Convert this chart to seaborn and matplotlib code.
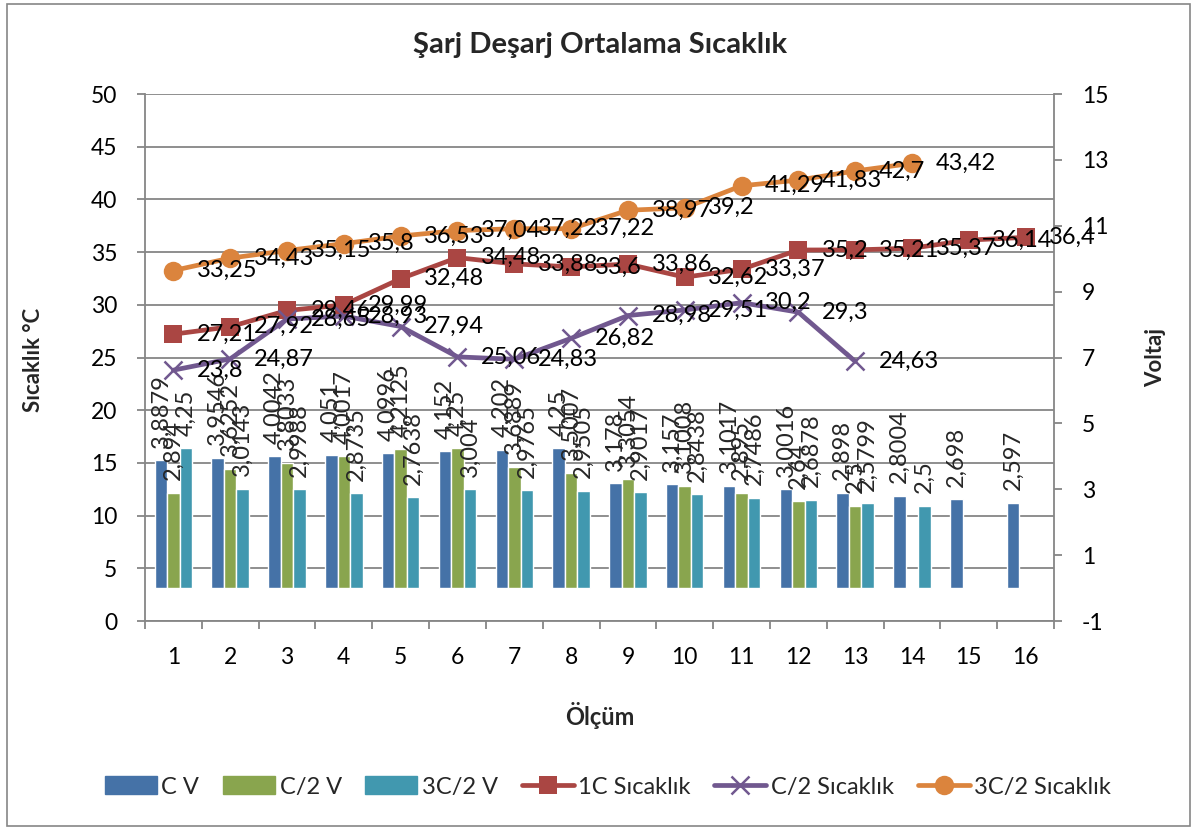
import numpy as np
import pandas as pd
import matplotlib
matplotlib.use("Agg")
import matplotlib.pyplot as plt
import matplotlib.transforms as mtransforms
from matplotlib.patches import Patch, Rectangle
from matplotlib.lines import Line2D
import seaborn as sns

sns.set_theme(style="white")
plt.rcParams["font.family"] = ["Lato", "DejaVu Sans"]
plt.rcParams["axes.unicode_minus"] = False

# --- data -------------------------------------------------------------
olcum = [str(i) for i in range(1, 17)]

# voltages (right axis)
c_v = [3.8879, 3.9546, 4.0042, 4.051, 4.0996, 4.152, 4.202, 4.25,
       3.178, 3.157, 3.1017, 3.0016, 2.898, 2.8004, 2.698, 2.597]
c2_v = [2.894, 3.6252, 3.8033, 4.0017, 4.2125, 4.25, 3.6889, 3.5007,
        3.3054, 3.1008, 2.895, 2.64, 2.5]
c32_v = [4.25, 3.0143, 2.9988, 2.8735, 2.7638, 3.004, 2.9765, 2.9505,
         2.9017, 2.8438, 2.7486, 2.6878, 2.5799, 2.5]

# temperatures (left axis)
t_1c = [27.21, 27.92, 29.46, 29.99, 32.48, 34.48, 33.88, 33.6,
        33.86, 32.62, 33.37, 35.2, 35.21, 35.37, 36.14, 36.4]
t_c2 = [23.8, 24.87, 28.65, 28.93, 27.94, 25.06, 24.83, 26.82,
        28.98, 29.51, 30.2, 29.3, 24.63]
t_3c2 = [33.25, 34.43, 35.15, 35.8, 36.53, 37.04, 37.22, 37.22,
         38.97, 39.2, 41.29, 41.83, 42.7, 43.42]

bar_names = ["C V", "C/2 V", "3C/2 V"]
line_names = ["1C Sıcaklık", "C/2 Sıcaklık", "3C/2 Sıcaklık"]

BLUE, GREEN, TEAL = "#4572A7", "#89A54E", "#4198AF"
RED, PURPLE, ORANGE = "#AA4643", "#71588F", "#DB843D"
GRID = "#868686"
FS_TICK = 16.5
FS_LBL = 17


def fmt(v):
    return f"{v:g}".replace(".", ",")


rows = []
for name, vals in zip(bar_names, [c_v, c2_v, c32_v]):
    for i, v in enumerate(vals):
        rows.append({"Ölçüm": olcum[i], "Voltaj": v, "Seri": name})
bars_df = pd.DataFrame(rows)

# --- figure -----------------------------------------------------------
fig = plt.figure(figsize=(11.92, 8.30), dpi=100)
axv = fig.add_axes([145 / 1192, 1 - 621 / 830, (1054 - 145) / 1192, (621 - 94) / 830])
axt = axv.twinx()

sns.barplot(data=bars_df, x="Ölçüm", y="Voltaj", hue="Seri", order=olcum,
            hue_order=bar_names, palette=[BLUE, GREEN, TEAL], width=0.66,
            saturation=1, errorbar=None, legend=False, ax=axv, zorder=2)

for cont in axv.containers:
    axv.bar_label(cont, fmt=fmt, rotation=90, padding=9, fontsize=FS_LBL)

# horizontal grid on the temperature scale, drawn behind the bars
temp_ticks = list(range(0, 51, 5))
blend = mtransforms.blended_transform_factory(axv.transAxes, axt.transData)
for t in temp_ticks:
    axv.add_line(Line2D([0, 1], [t, t], transform=blend, color=GRID,
                        lw=1.3, zorder=0.5))

# temperature lines
line_specs = [
    (t_1c, RED, "s", 13, 0),
    (t_c2, PURPLE, "x", 13, 1.8),
    (t_3c2, ORANGE, "o", 14, 0),
]
for vals, col, mk, ms, mew in line_specs:
    xs = np.arange(len(vals))
    sns.lineplot(x=xs, y=vals, ax=axt, color=col, linewidth=3.4, marker=mk,
                 markersize=ms, markeredgecolor=col, markerfacecolor=col,
                 markeredgewidth=mew if mew else 0.0, legend=False)
    for x, v in zip(xs, vals):
        axt.annotate(fmt(v), (x, v), xytext=(17, 0), textcoords="offset points",
                     ha="left", va="center", fontsize=FS_LBL, color="black")

# --- axes -------------------------------------------------------------
axv.set_xlim(-0.5, 15.5)
axv.set_ylim(-1, 15)
axt.set_ylim(0, 50)

axv.set_xticks(range(len(olcum)))
axv.set_xticklabels(olcum, fontsize=FS_TICK)
axv.set_xticks(np.arange(-0.5, len(olcum), 1), minor=True)
axv.tick_params(axis="x", which="major", length=0, pad=19, labelcolor="black")
axv.tick_params(axis="x", which="minor", length=6, width=1.3, color=GRID,
                direction="out", bottom=True)
axv.set_xlabel("")
axv.set_ylabel("")
axt.set_ylabel("")

axv.set_yticks(range(-1, 16, 2))
axv.yaxis.tick_right()
axv.tick_params(axis="y", which="major", length=6, width=1.3, color=GRID,
                direction="out", labelsize=FS_TICK, pad=14, labelcolor="black")

axt.set_yticks(temp_ticks)
axt.yaxis.tick_left()
axt.tick_params(axis="y", which="major", length=6, width=1.3, color=GRID,
                direction="out", labelsize=FS_TICK, pad=14, labelcolor="black")

for ax in (axv, axt):
    for side in ("top", "left", "right", "bottom"):
        ax.spines[side].set_visible(False)
axv.spines["bottom"].set_visible(True)
axv.spines["right"].set_visible(True)
axt.spines["left"].set_visible(True)
for sp in (axv.spines["bottom"], axv.spines["right"], axt.spines["left"]):
    sp.set_color(GRID)
    sp.set_linewidth(1.3)
axv.grid(False)
axt.grid(False)

# --- titles -----------------------------------------------------------
fig.text(600 / 1192, 1 - 45 / 830, "Şarj Deşarj Ortalama Sıcaklık",
         ha="center", va="center", fontsize=21, fontweight="bold")
fig.text(34 / 1192, 1 - 360 / 830, "Sıcaklık °C", rotation=90,
         ha="center", va="center", fontsize=16, fontweight="bold")
fig.text(1156 / 1192, 1 - 357 / 830, "Voltaj", rotation=90,
         ha="center", va="center", fontsize=16, fontweight="bold")
fig.text(600 / 1192, 1 - 715 / 830, "Ölçüm",
         ha="center", va="center", fontsize=17, fontweight="bold")

# --- legend -----------------------------------------------------------
handles = [Patch(facecolor=c, edgecolor=c) for c in (BLUE, GREEN, TEAL)]
handles += [
    Line2D([0], [0], color=RED, lw=3.4, marker="s", markersize=13, markeredgewidth=0),
    Line2D([0], [0], color=PURPLE, lw=3.4, marker="x", markersize=13,
           markeredgewidth=1.8),
    Line2D([0], [0], color=ORANGE, lw=3.4, marker="o", markersize=14, markeredgewidth=0),
]
fig.legend(handles, bar_names + line_names, loc="center",
           bbox_to_anchor=(608 / 1192, 1 - 787 / 830), ncol=6, frameon=False,
           fontsize=FS_LBL, handlelength=2.2, handleheight=0.8, handletextpad=0.2,
           columnspacing=1.0)

# chart border
fig.add_artist(Rectangle((7 / 1192, 4 / 830), (1190 - 7) / 1192, (826 - 4) / 830,
                         transform=fig.transFigure, fill=False, edgecolor=GRID,
                         lw=1.2))

fig.savefig("out.png", dpi=100)
